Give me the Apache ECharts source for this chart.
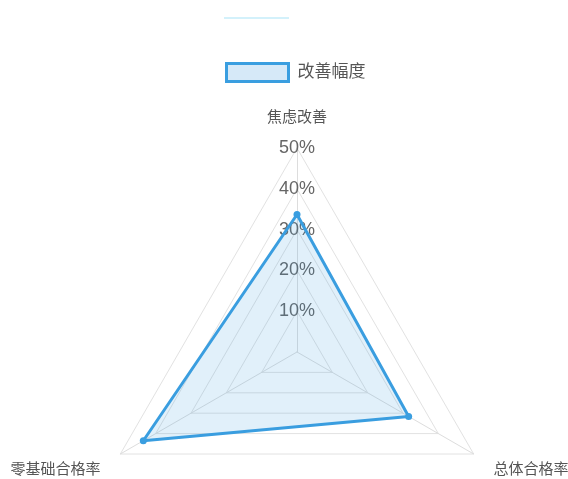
<!DOCTYPE html>
<html>
<head>
<meta charset="utf-8">
<script src="https://cdn.jsdelivr.net/npm/echarts@6/dist/echarts.min.js"></script>
<style>
html,body{margin:0;padding:0;background:#fff;}
#chart{width:568px;height:479px;}
</style>
</head>
<body>
<div id="chart"></div>
<script>
const indicatorNames = ['焦虑改善', '零基础合格率', '总体合格率'];
const indicatorMax = [50, 50, 50];
const seriesName = '改善幅度';
const seriesValues = [33.7, 43.5, 31.6];

const FONT = '"Liberation Sans", "Noto Sans CJK SC", sans-serif';
const chart = echarts.init(document.getElementById('chart'), null, {renderer: 'canvas'});

const indicators = indicatorNames.map((n, i) => {
  const o = {name: n, max: indicatorMax[i], min: 0};
  if (i === 0) o.axisLabel = {show: true};
  return o;
});

chart.setOption({
  backgroundColor: '#fff',
  animation: false,
  graphic: [{
    type: 'line',
    shape: {x1: 224, y1: 18, x2: 289, y2: 18},
    style: {stroke: '#c4ecfa', lineWidth: 1.5}
  }],
  legend: {
    data: [seriesName],
    left: 220,
    top: 57,
    icon: 'rect',
    itemWidth: 62,
    itemHeight: 18,
    itemStyle: {color: '#d6e9f8', borderColor: '#3a9ee0', borderWidth: 3},
    textStyle: {fontSize: 17, color: '#555', fontFamily: FONT, padding: [1, 0, 0, 4]}
  },
  radar: {
    center: [297, 352],
    radius: 204,
    startAngle: 90,
    shape: 'polygon',
    splitNumber: 5,
    indicator: indicators,
    nameGap: 23,
    axisName: {
      color: '#555', fontSize: 15, fontFamily: FONT,
      formatter: function (name) {
        return name === indicatorNames[0] ? '{t|' + name + '}' : '{b|' + name + '}';
      },
      rich: {
        t: {color: '#555', fontSize: 15, fontFamily: FONT},
        b: {color: '#555', fontSize: 15, fontFamily: FONT, padding: [9, 0, 0, 0]}
      }
    },
    axisLine: {lineStyle: {color: '#ddd', width: 1}},
    splitLine: {lineStyle: {color: '#e2e2e2', width: 1}},
    splitArea: {show: false},
    axisTick: {show: false},
    axisLabel: {
      show: false,
      margin: 0,
      align: 'center',
      color: '#666',
      fontSize: 18,
      fontFamily: FONT,
      formatter: function (v) { return v === 0 ? '' : v + '%'; }
    }
  },
  series: [{
    name: seriesName,
    type: 'radar',
    symbol: 'circle',
    symbolSize: 7,
    itemStyle: {color: '#3a9ee0'},
    lineStyle: {color: '#3a9ee0', width: 3},
    areaStyle: {color: 'rgba(58,158,224,0.22)'},
    data: [{value: seriesValues, name: seriesName}]
  }]
});
</script>
</body>
</html>
